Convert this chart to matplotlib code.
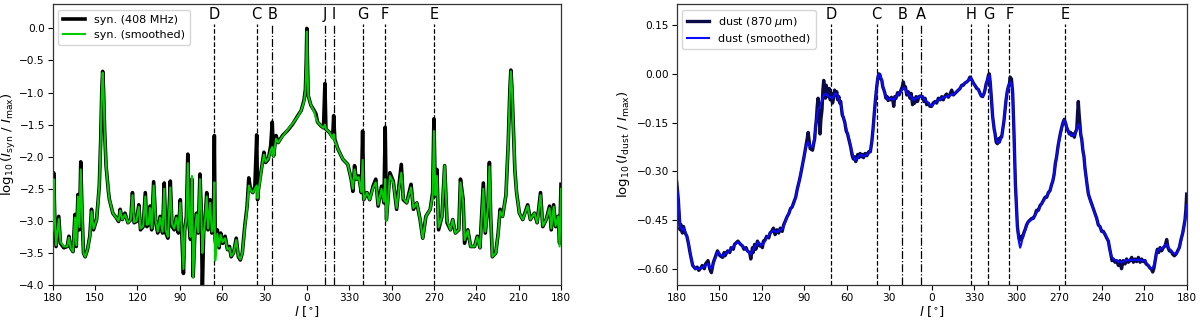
import matplotlib
matplotlib.use("Agg")
import matplotlib.pyplot as plt
import numpy as np

# ---------------- synchrotron profile (left panel) ----------------
syn_l = [180, 179.3, 178.6, 177.6, 175.7, 174.5, 172.1, 169.7, 168.5, 167.3, 165.6, 164.2, 163.3, 162.1,
         161.1, 160.1, 159.2, 158.2, 157, 155.4, 153.7, 152.5, 151.1, 148.9, 147, 146, 145.2, 144.6, 144,
         143.2, 142.2, 140.5, 139.8, 137.4, 135, 133.3, 132.2, 130.7, 128.8, 126.7, 124.7, 123.5, 122.3,
         120.7, 119, 117.8, 115.9, 114.4, 113.3, 112.1, 111.1, 109.9, 108.5, 107, 105.6, 103.9, 102.2,
         101, 99.9, 98.4, 96.7, 95.5, 93.9, 92.4, 91, 89.6, 88.4, 87.4, 86.5, 85.3, 84.3, 83.3, 82.4,
         81.4, 80.5, 79.3, 78.1, 76.9, 75.7, 74.7, 74, 73.1, 71.9, 70.9, 70, 68.5, 67.3, 66.2, 65.5,
         64.9, 64.2, 63.4, 62.2, 61, 59.6, 57.9, 56.2, 54.8, 53.6, 51.9, 50, 48.5, 47.1, 45.7, 44, 42.3,
         41.1, 39.9, 38.3, 36.8, 35.5, 34.9, 34.2, 33.2, 31.8, 30.4, 29.2, 27.3, 25.6, 24.5, 23.6, 21.8,
         20.3, 17.2, 13.6, 10, 6.4, 4, 2, 1, 0.4, 0, -0.4, -1, -2.9, -5.2, -6.4, -7.6, -10, -11.8,
         -12.8, -13.5, -16, -18.3, -19, -19.8, -22, -25.5, -29, -31.4, -32.6, -33.8, -35, -36.7, -38.6,
         -39.5, -40.3, -42.6, -44.5, -46.9, -48.8, -50.5, -52.9, -54.6, -55.5, -56.4, -58.8, -61.2,
         -63.6, -65.2, -66.9, -68.3, -70.7, -73.8, -75.5, -77.9, -80.2, -82.1, -84.3, -87.4, -89.1, -90,
         -91, -92.1, -93.3, -95.7, -97.6, -99.3, -101.7, -103.3, -105.2, -107.6, -108.8, -110.7, -111.7,
         -114, -116, -118.8, -120.7, -122.6, -125, -126.4, -128.3, -129.3, -130.2, -131.4, -133.8,
         -135.5, -136.9, -138.6, -141, -142.6, -143.8, -144.5, -145.3, -146.3, -147.3, -148.5, -150.5,
         -152.9, -156.4, -158.3, -161.2, -163.1, -165.5, -167.1, -169.5, -171.9, -173.1, -174.8,
         -176.2, -177.9, -179, -180]
syn_raw = [-3.14, -2.25, -2.88, -3.4, -2.93, -3.35, -3.42, -3.4, -3.24, -3.42, -3.48, -2.9, -3.4, -2.59,
           -3.14, -2.08, -2.88, -3.5, -3.56, -3.45, -3.24, -2.82, -3.14, -2.98, -2.46, -1.75, -0.95, -0.67, -0.95,
           -1.6, -2.14, -2.55, -2.67, -2.88, -2.95, -3.01, -2.82, -2.98, -2.88, -3.03, -2.98, -2.56, -3.03,
           -3.01, -2.75, -3.14, -3.09, -2.56, -3.09, -3.06, -2.77, -3.14, -2.39, -3.03, -3.19, -2.93, -3.19,
           -2.41, -3.19, -3.27, -2.38, -3.09, -3.14, -2.93, -3.19, -2.67, -3.29, -3.82, -3.14, -2.93, -1.96, -3.09, -3.29,
           -2.35, -3.87, -3.19, -2.88, -3.19, -2.27, -2.88, -4.1, -3.19, -2.93, -2.56, -3.14, -2.67, -3.19, -3.09, -1.67,
           -3.3, -3.4, -3.14, -3.42, -3.19, -3.35, -3.24, -3.45, -3.4, -3.56, -3.5, -3.27, -3.56, -3.61, -3.5, -3.09, -2.77,
           -2.33, -2.51, -2.56, -2.46, -1.66, -2.67, -2.5, -2.35, -2.14, -1.93, -2.09, -2.04, -1.83, -1.46, -1.99, -1.67,
           -1.78, -1.67, -1.59, -1.49, -1.36, -1.28, -1.12, -0.95, -0.5, 0.0, -0.5, -1.05, -1.2, -1.28, -1.33, -1.46, -1.52, -1.55,
           -0.86, -1.57, -1.62, -1.7, -1.36, -1.73, -1.88, -2.04, -2.12, -2.35, -2.54, -2.14, -2.35, -2.3, -2.56,
           -1.6, -2.67, -2.56, -2.67, -2.46, -2.35, -2.77, -2.46, -2.72, -1.54, -2.98, -2.25, -2.38,
           -2.82, -2.46, -2.12, -2.67, -2.72, -2.43, -2.82, -2.72, -2.98, -3.27, -2.93, -2.82, -2.56, -1.41,
           -2.61, -2.2, -3.14, -2.93, -2.14, -3.03, -3.14, -2.98, -3.19, -3.14, -2.35, -2.67, -3.35,
           -3.14, -3.4, -3.4, -3.24, -3.42, -2.41, -3.19, -2.75, -2.09, -2.93, -3.56, -3.5,
           -3.19, -2.82, -2.93, -2.6, -1.8, -0.95, -0.65, -0.95, -1.6, -2.2, -2.55, -2.88,
           -2.98, -2.75, -2.98, -2.88, -3.03, -2.56, -3.09, -2.98, -2.77, -3.14, -2.75,
           -3.09, -2.93, -3.35, -2.43]
syn_smooth = [-3.15, -2.35, -2.9, -3.38, -2.97, -3.33, -3.4, -3.4, -3.26, -3.42, -3.48, -2.95, -3.38, -2.62,
              -3.1, -2.2, -2.85, -3.5, -3.56, -3.45, -3.25, -2.85, -3.12, -2.98, -2.46, -1.75, -0.97, -0.69, -0.97,
              -1.6, -2.14, -2.55, -2.67, -2.88, -2.95, -3.0, -2.84, -2.98, -2.9, -3.03, -2.98, -2.6, -3.02,
              -3.0, -2.78, -3.12, -3.08, -2.62, -3.06, -3.05, -2.8, -3.12, -2.45, -3.0, -3.17, -2.95, -3.17,
              -2.5, -3.15, -3.25, -2.48, -3.05, -3.12, -2.95, -3.15, -2.72, -3.25, -3.75, -3.15, -2.95, -2.1, -3.05, -3.25,
              -2.3, -3.88, -3.2, -2.9, -3.18, -2.35, -2.9, -3.5, -3.2, -2.95, -2.62, -3.12, -2.72, -3.17, -3.1, -2.4,
              -3.62, -3.45, -3.2, -3.4, -3.22, -3.33, -3.27, -3.45, -3.42, -3.55, -3.5, -3.3, -3.55, -3.6, -3.5, -3.12, -2.8,
              -2.45, -2.52, -2.56, -2.5, -2.45, -2.65, -2.52, -2.38, -2.15, -1.97, -2.08, -2.03, -1.9, -1.85, -2.0, -1.72,
              -1.78, -1.68, -1.58, -1.48, -1.37, -1.28, -1.14, -0.98, -0.55, -0.05, -0.55, -1.05, -1.2, -1.3, -1.4, -1.46, -1.52, -1.55,
              -1.5, -1.57, -1.62, -1.72, -1.65, -1.75, -1.88, -2.04, -2.12, -2.35, -2.5, -2.2, -2.35, -2.32, -2.55,
              -2.05, -2.67, -2.56, -2.67, -2.48, -2.4, -2.75, -2.5, -2.7, -2.35, -3.0, -2.3, -2.4,
              -2.8, -2.5, -2.25, -2.65, -2.72, -2.48, -2.8, -2.72, -2.98, -3.27, -2.93, -2.82, -2.6, -1.6,
              -2.6, -2.3, -3.1, -2.93, -2.14, -3.0, -3.14, -2.98, -3.19, -3.14, -2.4, -2.7, -3.3,
              -3.15, -3.4, -3.4, -3.25, -3.42, -2.5, -3.17, -2.78, -2.15, -2.9, -3.56, -3.5,
              -3.2, -2.85, -2.93, -2.6, -1.8, -0.97, -0.67, -0.97, -1.6, -2.2, -2.55, -2.88,
              -2.98, -2.77, -2.98, -2.88, -3.03, -2.6, -3.08, -2.98, -2.8, -3.12, -2.78,
              -3.08, -2.93, -3.4, -2.5]

syn_marks = ["D", "C", "B", "J", "I", "G", "F", "E"]
syn_mark_l = [65.5, 35.5, 24.5, -12.8, -19.0, -39.5, -55.5, -90.0]
syn_mark_ls = ["--", "--", "-.", "-.", "-.", "--", "--", "--"]

# ---------------- dust profile (right panel) ----------------
dust_l = [180, 178.8, 177.6, 176.8, 176.0, 175.2, 174.0, 172.8, 171.6, 170.4, 168.7, 166.8, 165.5, 164.4,
          163, 162, 160.5, 159.6, 157.9, 156.7, 155.5, 154.1, 152.4, 151.2, 150, 149.5, 147.6, 146.5,
          145.9, 144, 142.5, 141.6, 140, 139.2, 137.5, 136.8, 134.9, 133.5, 132.5, 131, 130.1, 128.5,
          127.7, 126.5, 126, 125, 124.1, 123, 122.4, 121.5, 120.5, 119.5, 118.8, 117.5, 116.5, 115, 114.1,
          113, 111.7, 110.5, 109.3, 108, 106.9, 105.5, 104.5, 103.5, 102.1, 100.8, 99.7, 98.5, 97.3, 96,
          94.9, 93.5, 92.5, 91.2, 90.1, 88.9, 87.9, 87.2, 86.5, 85.8, 84.1, 83.3, 82.6, 81.9, 81.4, 80.8,
          80.2, 79.5, 78.8, 78.2, 77.4, 76.8, 76.2, 75.6, 75.0, 74.4, 73.8, 73.0, 72.3, 71.6, 70.8, 70.0,
          69.2, 68.5, 67.8, 67.0, 66.3, 65.5, 64.9, 64.2, 63.2, 62.3, 61.3, 60.4, 59.4, 58.3, 57.2, 56.2,
          55.3, 54.5, 53.6, 52.9, 52.2, 51.4, 50.5, 49.6, 48.8, 48.1, 47, 45.7, 44.5, 43.3, 42.3, 41.4,
          40.5, 39.7, 38.8, 38, 37.3, 36.6, 35.9, 35.2, 34.5, 33.7, 33, 32.3, 31.5, 30.8, 30, 29.2, 28.4,
          27.5, 26.8, 26, 25.2, 24.1, 23.0, 21.7, 20.8, 20, 19.2, 18.5, 17.6, 16.5, 15.3, 14.5, 13.5, 12.9,
          12, 11, 10, 9, 7.8, 6.5, 5.5, 4.7, 3.5, 2.4, 1.2, 0, -1, -2.4, -3.5, -4.7, -6, -7.1, -8.2, -9.4,
          -10.5, -11.8, -13, -14.1, -15.3, -16.5, -17.6, -18.8, -20, -21.2, -22.3, -23.5, -24.7, -25.9,
          -27, -27.5, -28.5, -29.4, -30.5, -31.8, -33, -34.1, -35, -36, -37, -37.6, -38.5, -39.3, -40.2,
          -40.7, -41.3, -41.9, -43, -44.1, -44.7, -45.5, -46.4, -47.1, -47.8, -48.6, -49.4, -50.2, -51.1,
          -51.8, -52.5, -53.3, -54.1, -54.9, -55.5, -55.8, -56.3, -57.2, -58.1, -59.1, -60.5, -61.5,
          -62.4, -63.2, -64, -65, -65.9, -67, -68.2, -69.4, -70.6, -71.7, -72.9, -74, -75.3, -76.5, -77.6,
          -78.8, -80, -81.2, -82.4, -83.5, -84.7, -85.5, -86.4, -87.3, -88.2, -89.1, -90.1, -91, -91.8,
          -92.7, -93.6, -94.4, -95.3, -96.2, -97.2, -98, -98.8, -99.8, -100.7, -101.5, -102.4, -103,
          -103.5, -104, -104.7, -105.3, -105.9, -106.7, -107.5, -108.2, -108.9, -109.8, -110.6, -111.7,
          -112.9, -114.1, -115.3, -116.5, -117.6, -118.8, -120, -121.2, -122.4, -123.5, -124.7, -125.5,
          -126.4, -127.3, -128.2, -129.4, -130.6, -131.8, -132.9, -134, -135.2, -136.5, -137.6, -138.8,
          -140, -141.2, -142.4, -143.5, -144.7, -145.9, -147.1, -148.2, -149.4, -150.6, -151.3, -152.9,
          -154.1, -155, -156, -156.8, -157.6, -158.5, -159.3, -160.2, -161.2, -162.3, -163.5, -164.7,
          -165.9, -166.8, -167.8, -168.9, -170.1, -171.3, -172.5, -173.6, -174.8, -176, -177.2, -178,
          -178.8, -179.4, -180]
dust_raw = [-0.333, -0.39, -0.48, -0.465, -0.49, -0.47, -0.49, -0.5, -0.525, -0.555, -0.59, -0.6, -0.595, -0.605,
            -0.598, -0.59, -0.6, -0.585, -0.575, -0.6, -0.612, -0.58, -0.56, -0.545, -0.555, -0.56, -0.565, -0.55,
            -0.56, -0.545, -0.55, -0.535, -0.54, -0.525, -0.518, -0.515, -0.525, -0.53, -0.54, -0.535, -0.545, -0.55,
            -0.57, -0.535, -0.55, -0.525, -0.54, -0.515, -0.52, -0.53, -0.525, -0.535, -0.515, -0.51, -0.5, -0.505, -0.49,
            -0.485, -0.475, -0.495, -0.48, -0.49, -0.475, -0.485, -0.465, -0.455, -0.44, -0.43, -0.415, -0.41, -0.395, -0.38,
            -0.355, -0.33, -0.31, -0.28, -0.255, -0.225, -0.2, -0.18, -0.205, -0.23, -0.235, -0.215, -0.2, -0.16, -0.14, -0.1,
            -0.075, -0.13, -0.185, -0.14, -0.11, -0.05, -0.02, -0.06, -0.075, -0.035, -0.06, -0.07, -0.045, -0.08, -0.06, -0.09,
            -0.075, -0.05, -0.065, -0.055, -0.08, -0.07, -0.09, -0.085, -0.125, -0.135, -0.15, -0.175, -0.185, -0.205, -0.225, -0.25,
            -0.262, -0.255, -0.27, -0.26, -0.248, -0.258, -0.245, -0.255, -0.248, -0.258, -0.245, -0.252, -0.24, -0.24, -0.21, -0.17,
            -0.12, -0.08, -0.04, -0.012, 0.0, -0.002, -0.015, -0.02, -0.04, -0.05, -0.06, -0.075, -0.07, -0.082, -0.075, -0.08, -0.072,
            -0.078, -0.1, -0.07, -0.075, -0.058, -0.065, -0.05, -0.04, -0.025, -0.045, -0.04, -0.065, -0.055, -0.075, -0.06, -0.095, -0.075,
            -0.09, -0.07, -0.085, -0.07, -0.068, -0.07, -0.085, -0.075, -0.095, -0.09, -0.1, -0.1, -0.09, -0.085, -0.09, -0.075, -0.08, -0.07, -0.08, -0.068,
            -0.062, -0.072, -0.062, -0.05, -0.065, -0.06, -0.055, -0.05, -0.045, -0.035, -0.035, -0.028, -0.025, -0.02,
            -0.01, -0.012, -0.02, -0.028, -0.035, -0.045, -0.048, -0.06, -0.068, -0.07, -0.06, -0.05, -0.03, -0.02, -0.002,
            0.0, -0.025, -0.06, -0.13, -0.17, -0.183, -0.21, -0.215, -0.2, -0.21, -0.195, -0.195, -0.17, -0.142,
            -0.11, -0.08, -0.055, -0.04, -0.03, -0.01, -0.025, -0.015, -0.06, -0.183, -0.34, -0.47, -0.505,
            -0.512, -0.5, -0.505, -0.49, -0.48, -0.465, -0.455, -0.45, -0.445, -0.445, -0.435, -0.42, -0.42, -0.405, -0.4,
            -0.39, -0.38, -0.38, -0.365, -0.36, -0.34, -0.33, -0.31, -0.275, -0.255, -0.225, -0.2, -0.18, -0.165,
            -0.15, -0.14, -0.15, -0.165, -0.175, -0.185, -0.18, -0.19, -0.185, -0.195, -0.18, -0.17, -0.12,
            -0.085, -0.12, -0.16, -0.19, -0.2, -0.235, -0.255, -0.29, -0.315, -0.345, -0.37, -0.385,
            -0.4, -0.415, -0.43, -0.445, -0.465, -0.47, -0.485, -0.485, -0.495, -0.505, -0.515, -0.535,
            -0.555, -0.575, -0.57, -0.58, -0.575, -0.59, -0.575, -0.6, -0.575, -0.585, -0.57, -0.58,
            -0.575, -0.565, -0.58, -0.57, -0.578, -0.565, -0.58, -0.57, -0.578, -0.575, -0.585, -0.59,
            -0.598, -0.6, -0.61, -0.6, -0.58, -0.555, -0.54, -0.55, -0.535, -0.545, -0.535, -0.53,
            -0.51, -0.535, -0.545, -0.545, -0.555, -0.56, -0.555, -0.545, -0.535, -0.51, -0.49, -0.47,
            -0.45, -0.42, -0.37]
dust_smooth = [-0.333, -0.39, -0.47, -0.475, -0.48, -0.475, -0.485, -0.5, -0.52, -0.554, -0.588, -0.6, -0.6, -0.6,
               -0.598, -0.596, -0.593, -0.59, -0.585, -0.595, -0.6, -0.585, -0.565, -0.548, -0.552, -0.555, -0.562, -0.557,
               -0.554, -0.549, -0.544, -0.539, -0.532, -0.528, -0.52, -0.518, -0.523, -0.53, -0.536, -0.54, -0.545, -0.552,
               -0.556, -0.545, -0.54, -0.533, -0.528, -0.522, -0.518, -0.522, -0.528, -0.525, -0.523, -0.515, -0.505, -0.498, -0.492,
               -0.487, -0.482, -0.485, -0.487, -0.484, -0.48, -0.477, -0.47, -0.458, -0.441, -0.428, -0.415, -0.408, -0.4, -0.38,
               -0.358, -0.33, -0.307, -0.28, -0.255, -0.228, -0.215, -0.21, -0.215, -0.222, -0.225, -0.21, -0.19, -0.165, -0.145, -0.125,
               -0.11, -0.105, -0.1, -0.09, -0.08, -0.07, -0.065, -0.063, -0.065, -0.062, -0.065, -0.068, -0.07, -0.072, -0.072, -0.075,
               -0.07, -0.062, -0.06, -0.062, -0.07, -0.078, -0.085, -0.095, -0.115, -0.135, -0.152, -0.168, -0.183, -0.2, -0.222, -0.24,
               -0.255, -0.262, -0.266, -0.262, -0.258, -0.254, -0.25, -0.25, -0.252, -0.253, -0.252, -0.25, -0.245, -0.236, -0.215, -0.173,
               -0.125, -0.08, -0.04, -0.014, -0.002, 0.0, -0.008, -0.019, -0.035, -0.05, -0.06, -0.07, -0.075, -0.077, -0.078, -0.078, -0.077,
               -0.077, -0.08, -0.075, -0.07, -0.065, -0.06, -0.055, -0.05, -0.045, -0.042, -0.048, -0.058, -0.062, -0.068, -0.07, -0.078, -0.08,
               -0.077, -0.075, -0.074, -0.072, -0.068, -0.072, -0.076, -0.08, -0.085, -0.09, -0.095, -0.099, -0.095, -0.088, -0.085, -0.08, -0.078, -0.075, -0.073, -0.071,
               -0.07, -0.069, -0.067, -0.064, -0.062, -0.06, -0.055, -0.05, -0.044, -0.037, -0.033, -0.029, -0.024, -0.019,
               -0.014, -0.012, -0.02, -0.029, -0.035, -0.041, -0.05, -0.06, -0.067, -0.07, -0.06, -0.05, -0.033, -0.019, -0.008,
               -0.004, -0.03, -0.06, -0.132, -0.17, -0.183, -0.2, -0.212, -0.212, -0.209, -0.203, -0.194, -0.172, -0.142,
               -0.11, -0.08, -0.056, -0.039, -0.03, -0.028, -0.026, -0.03, -0.06, -0.18, -0.338, -0.475, -0.515,
               -0.535, -0.525, -0.508, -0.495, -0.482, -0.468, -0.456, -0.452, -0.449, -0.443, -0.436, -0.428, -0.42, -0.41, -0.4,
               -0.392, -0.384, -0.376, -0.369, -0.357, -0.343, -0.328, -0.307, -0.28, -0.255, -0.23, -0.204, -0.185, -0.168,
               -0.152, -0.142, -0.148, -0.163, -0.174, -0.183, -0.187, -0.189, -0.19, -0.189, -0.182, -0.173, -0.163,
               -0.155, -0.156, -0.163, -0.18, -0.204, -0.23, -0.255, -0.285, -0.317, -0.345, -0.369, -0.387,
               -0.4, -0.416, -0.431, -0.447, -0.462, -0.472, -0.482, -0.488, -0.492, -0.502, -0.513, -0.535,
               -0.554, -0.565, -0.57, -0.573, -0.575, -0.578, -0.58, -0.58, -0.578, -0.575, -0.574, -0.573,
               -0.573, -0.573, -0.573, -0.573, -0.573, -0.573, -0.573, -0.574, -0.575, -0.575, -0.58, -0.59,
               -0.597, -0.6, -0.598, -0.59, -0.575, -0.555, -0.545, -0.542, -0.539, -0.537, -0.534, -0.528,
               -0.525, -0.53, -0.538, -0.545, -0.549, -0.553, -0.554, -0.548, -0.535, -0.515, -0.492, -0.475,
               -0.451, -0.43, -0.405]

dust_marks = ["D", "C", "B", "A", "H", "G", "F", "E"]
dust_mark_l = [71.0, 38.8, 20.8, 7.8, -27.8, -40.0, -54.8, -94.4]
dust_mark_ls = ["--", "--", "-.", "-.", "--", "--", "--", "--"]

tick_pos = [180, 150, 120, 90, 60, 30, 0, -30, -60, -90, -120, -150, -180]
tick_lab = ["180", "150", "120", "90", "60", "30", "0", "330", "300", "270", "240", "210", "180"]

FS = 7.6
fig = plt.figure(figsize=(12, 3.2), dpi=100)
ax1 = fig.add_axes([0.0439, 0.1094, 0.4236, 0.878])
ax2 = fig.add_axes([0.5639, 0.1094, 0.425, 0.878])


def style_axis(ax, marks, mark_l, mark_ls):
    ax.set_xlim(180, -180)
    ax.set_xticks(tick_pos)
    ax.set_xticklabels(tick_lab)
    ax.tick_params(labelsize=FS, length=3.5, width=0.8, pad=2.2)
    for m, x, ls in zip(marks, mark_l, mark_ls):
        ax.axvline(x, ymin=0, ymax=0.93, color="k", ls=ls, lw=0.9, zorder=1)
        ax.text(x, 0.945, m, transform=ax.get_xaxis_transform(), ha="center", va="baseline",
                fontsize=10.5)
    ax.set_xlabel(r"$l$ [$^{\circ}$]", fontsize=9.5, labelpad=1)
    for s in ax.spines.values():
        s.set_linewidth(0.9)
        s.set_color("#333333")


ax1.plot(syn_l, syn_raw, color="k", lw=2.6, label="syn. (408 MHz)", zorder=2, solid_joinstyle="round")
ax1.plot(syn_l, syn_smooth, color="#00cc00", lw=1.5, label="syn. (smoothed)", zorder=3)
ax1.set_ylim(-4.0, 0.38)
ax1.set_yticks(np.arange(-4.0, 0.01, 0.5))
ax1.set_ylabel(r"$\log_{10}(I_{\rm syn}\ /\ I_{\rm max})$", fontsize=9.5)
ax1.yaxis.set_label_coords(-0.068, 0.5)
style_axis(ax1, syn_marks, syn_mark_l, syn_mark_ls)
ax1.legend(loc="upper left", fontsize=8, handlelength=2.0, borderpad=0.45, labelspacing=0.45)

ax2.plot(dust_l, dust_raw, color="#0b0b45", lw=2.4, label=r"dust (870 $\mu$m)", zorder=2)
ax2.plot(dust_l, dust_smooth, color="#0a0aff", lw=1.5, label="dust (smoothed)", zorder=3)
ax2.set_ylim(-0.65, 0.215)
ax2.set_yticks([-0.60, -0.45, -0.30, -0.15, 0.0, 0.15])
ax2.set_ylabel(r"$\log_{10}(I_{\rm dust}\ /\ I_{\rm max})$", fontsize=9.5)
ax2.yaxis.set_label_coords(-0.088, 0.5)
style_axis(ax2, dust_marks, dust_mark_l, dust_mark_ls)
ax2.legend(loc="upper left", fontsize=8, handlelength=2.0, borderpad=0.45, labelspacing=0.45)

fig.savefig("out.png", dpi=100)
